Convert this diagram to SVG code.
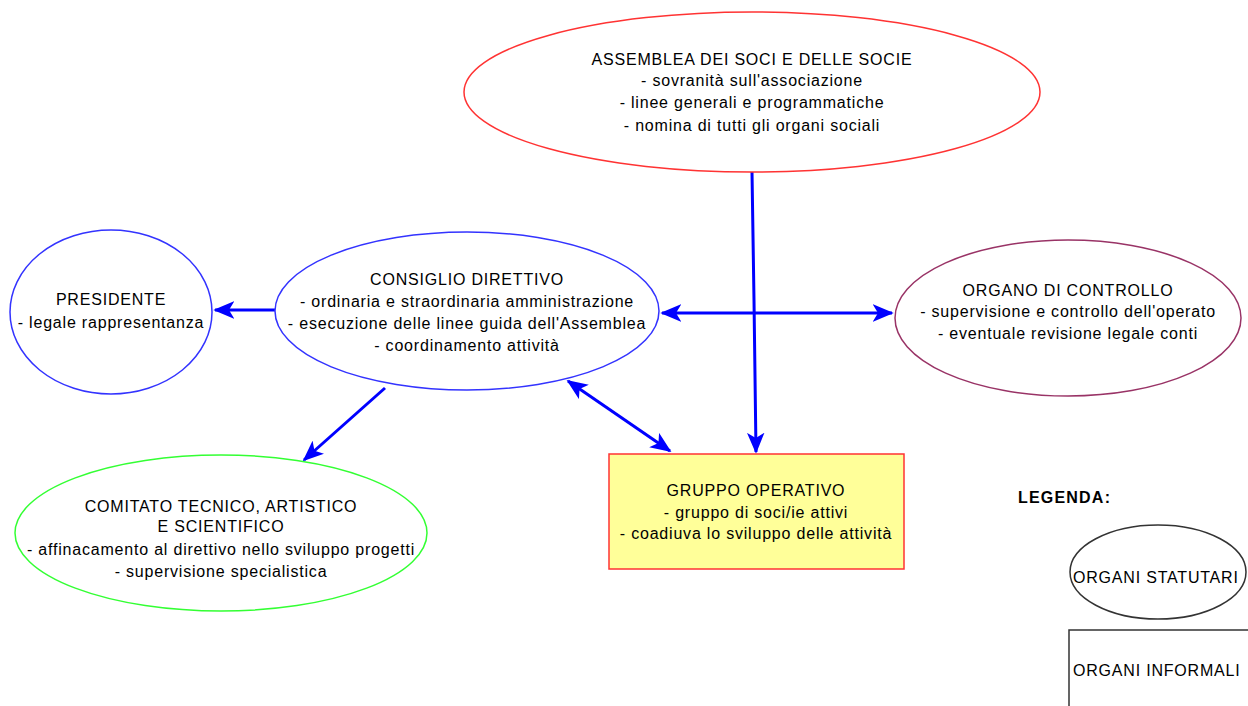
<svg xmlns="http://www.w3.org/2000/svg" width="1248" height="706" viewBox="0 0 1248 706">
<style>
text{font-family:"Liberation Sans",Arial,sans-serif;font-size:16px;letter-spacing:0.8px;fill:#000;text-anchor:middle}
.conn{stroke:#0000ff;stroke-width:3;fill:none}
</style>
<defs>
<marker id="ah" viewBox="0 0 12 10" refX="11" refY="5" markerWidth="7" markerHeight="6" orient="auto-start-reverse" markerUnits="strokeWidth">
<path d="M0,0 L12,5 L0,10 L3,5 z" fill="#0000ff"/>
</marker>
</defs>
<rect width="1248" height="706" fill="#fff"/>
<g id="connectors">
<path class="conn" d="M752,172 L754,300 L756,452" marker-end="url(#ah)"/>
<path class="conn" d="M662,313 L892,313" marker-start="url(#ah)" marker-end="url(#ah)"/>
<path class="conn" d="M277,310 L215,310" marker-end="url(#ah)"/>
<path class="conn" d="M385,388 L304,460" marker-end="url(#ah)"/>
<path class="conn" d="M568,381 L670,451" marker-start="url(#ah)" marker-end="url(#ah)"/>
</g>
<g id="assemblea">
<ellipse cx="752" cy="92" rx="288" ry="80" fill="#fff" stroke="#ff3333" stroke-width="1.5"/>
<text x="752" y="65">ASSEMBLEA DEI SOCI E DELLE SOCIE</text>
<text x="752" y="86">- sovranità sull'associazione</text>
<text x="752" y="108">- linee generali e programmatiche</text>
<text x="752" y="131">- nomina di tutti gli organi sociali</text>
</g>
<g id="presidente">
<ellipse cx="111" cy="312" rx="101" ry="82" fill="#fff" stroke="#3333ff" stroke-width="1.5"/>
<text x="111" y="305">PRESIDENTE</text>
<text x="111" y="328">- legale rappresentanza</text>
</g>
<g id="consiglio">
<ellipse cx="467" cy="311" rx="192" ry="79" fill="#fff" stroke="#3333ff" stroke-width="1.5"/>
<text x="467" y="285">CONSIGLIO DIRETTIVO</text>
<text x="467" y="307">- ordinaria e straordinaria amministrazione</text>
<text x="467" y="329">- esecuzione delle linee guida dell'Assemblea</text>
<text x="467" y="351">- coordinamento attività</text>
</g>
<g id="organo">
<ellipse cx="1068" cy="318" rx="173" ry="78" fill="#fff" stroke="#993366" stroke-width="1.5"/>
<text x="1068" y="296">ORGANO DI CONTROLLO</text>
<text x="1068" y="317">- supervisione e controllo dell'operato</text>
<text x="1068" y="339">- eventuale revisione legale conti</text>
</g>
<g id="comitato">
<ellipse cx="221" cy="533" rx="206" ry="78" fill="#fff" stroke="#33ff33" stroke-width="1.5"/>
<text x="221" y="512">COMITATO TECNICO, ARTISTICO</text>
<text x="221" y="532">E SCIENTIFICO</text>
<text x="221" y="555">- affinacamento al direttivo nello sviluppo progetti</text>
<text x="221" y="577">- supervisione specialistica</text>
</g>
<g id="gruppo">
<rect x="609" y="454" width="295" height="115" fill="#ffff99" stroke="#ff3333" stroke-width="1.5"/>
<text x="756" y="496">GRUPPO OPERATIVO</text>
<text x="756" y="518">- gruppo di soci/ie attivi</text>
<text x="756" y="539">- coadiuva lo sviluppo delle attività</text>
</g>
<g id="legenda">
<text x="1018" y="503" style="text-anchor:start;font-weight:bold;letter-spacing:1.2px">LEGENDA:</text>
<ellipse cx="1158" cy="572" rx="88" ry="47" fill="#fff" stroke="#333" stroke-width="1.5"/>
<text x="1073" y="583" style="text-anchor:start">ORGANI STATUTARI</text>
<rect x="1069" y="630" width="190" height="90" fill="#fff" stroke="#333" stroke-width="1.5"/>
<text x="1073" y="676" style="text-anchor:start">ORGANI INFORMALI</text>
</g>
</svg>
